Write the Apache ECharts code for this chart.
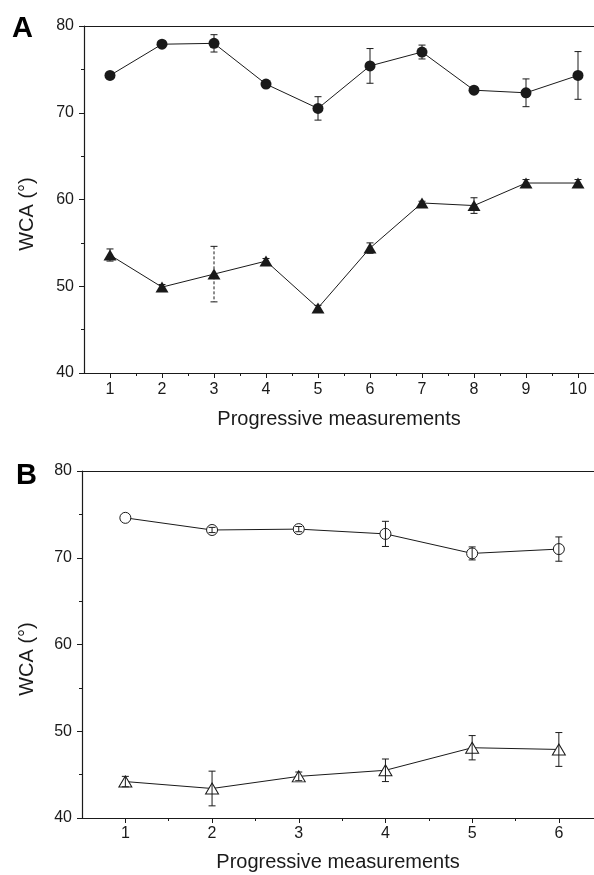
<!DOCTYPE html>
<html>
<head>
<meta charset="utf-8">
<script src="https://cdn.jsdelivr.net/npm/echarts@6/dist/echarts.min.js"></script>
<style>
html,body{margin:0;padding:0;background:#fff;}
#chart{width:594px;height:875px;}
</style>
</head>
<body>
<div id="chart"></div>
<script>
// ---------- data ----------
const xA = [1, 2, 3, 4, 5, 6, 7, 8, 9, 10];
const circA = [74.3, 77.9, 78.0, 73.3, 70.5, 75.4, 77.0, 72.6, 72.3, 74.3];
const circAErr = [0.2, 0.2, 1.0, 0.3, 1.35, 2.0, 0.8, 0.2, 1.6, 2.75];
const triA = [53.6, 49.9, 51.4, 52.9, 47.5, 54.4, 59.6, 59.3, 61.9, 61.9];
const triAErr = [0.7, 0.3, 3.2, 0.3, 0.3, 0.6, 0.2, 0.9, 0.4, 0.4];

const xB = [1, 2, 3, 4, 5, 6];
const circB = [74.6, 73.2, 73.3, 72.75, 70.5, 71.0];
const circBErr = [0, 0.3, 0.3, 1.45, 0.75, 1.4];
const triB = [44.2, 43.4, 44.8, 45.5, 48.1, 47.9];
const triBErr = [0.6, 2.0, 0.5, 1.3, 1.4, 1.95];

const xTicksA = [1, 2, 3, 4, 5, 6, 7, 8, 9, 10];
const xMinorA = [1.5, 2.5, 3.5, 4.5, 5.5, 6.5, 7.5, 8.5, 9.5];
const xTicksB = [1, 2, 3, 4, 5, 6];
const xMinorB = [1.5, 2.5, 3.5, 4.5, 5.5];

const xTitle = 'Progressive measurements';
const yTitle = 'WCA (°)';

// ---------- helpers ----------
const FONT = '"Liberation Sans", Arial, sans-serif';
const INK = '#1a1a1a';

function pts(xs, ys) { return xs.map((x, i) => [x, ys[i]]); }
function errPts(xs, ys, es) { return xs.map((x, i) => [x, ys[i], es[i]]); }

function errRender(dashedIdx) {
  return function (params, api) {
    const x = api.value(0), y = api.value(1), e = api.value(2);
    if (!e) return null;
    const t = api.coord([x, y + e]);
    const b = api.coord([x, y - e]);
    const hw = 3.5;
    const dash = (dashedIdx === params.dataIndex) ? [3, 2] : null;
    const st = { stroke: INK, lineWidth: 1, lineDash: dash };
    return {
      type: 'group',
      children: [
        { type: 'line', shape: { x1: t[0], y1: t[1], x2: b[0], y2: b[1] }, style: st },
        { type: 'line', shape: { x1: t[0] - hw, y1: t[1], x2: t[0] + hw, y2: t[1] }, style: { stroke: INK, lineWidth: 1 } },
        { type: 'line', shape: { x1: b[0] - hw, y1: b[1], x2: b[0] + hw, y2: b[1] }, style: { stroke: INK, lineWidth: 1 } }
      ]
    };
  };
}

function mainX(gridIndex, max, ticks, labelMargin, gap) {
  return {
    type: 'value', gridIndex, min: 0.5, max,
    position: 'bottom',
    axisLine: { show: true, onZero: false, lineStyle: { color: INK, width: 1.2 } },
    axisTick: { show: true, length: 5, customValues: ticks, lineStyle: { color: INK } },
    axisLabel: { show: true, customValues: ticks, color: INK, fontSize: 16, fontFamily: FONT, margin: labelMargin },
    splitLine: { show: false },
    name: xTitle, nameLocation: 'middle', nameGap: gap,
    nameTextStyle: { color: INK, fontSize: 20, fontFamily: FONT }
  };
}
function minorX(gridIndex, max, ticks) {
  return {
    type: 'value', gridIndex, min: 0.5, max, position: 'bottom',
    axisLine: { show: false },
    axisTick: { show: true, length: 3, customValues: ticks, lineStyle: { color: INK } },
    axisLabel: { show: false },
    splitLine: { show: false }
  };
}
function topX(gridIndex, max) {
  return {
    type: 'value', gridIndex, min: 0.5, max, position: 'top',
    axisLine: { show: true, lineStyle: { color: INK, width: 1.2 } },
    axisTick: { show: false }, axisLabel: { show: false }, splitLine: { show: false }
  };
}
function mainY(gridIndex) {
  return {
    type: 'value', gridIndex, min: 40, max: 80, interval: 10,
    axisLine: { show: true, lineStyle: { color: INK, width: 1.2 } },
    axisTick: { show: true, length: 5, lineStyle: { color: INK } },
    minorTick: { show: true, splitNumber: 2, length: 3, lineStyle: { color: INK } },
    axisLabel: { color: INK, fontSize: 16, fontFamily: FONT, margin: 10 },
    splitLine: { show: false }, minorSplitLine: { show: false }
  };
}

const maxA = 0.5 + 510 / 52;
const maxB = 0.5 + 512 / 86.7;

const option = {
  animation: false,
  backgroundColor: '#fff',
  grid: [
    { left: 84, top: 26, width: 510, height: 347 },
    { left: 82, top: 471, width: 512, height: 347 }
  ],
  xAxis: [
    mainX(0, maxA, xTicksA, 9, 36), minorX(0, maxA, xMinorA), topX(0, maxA),
    mainX(1, maxB, xTicksB, 8, 34), minorX(1, maxB, xMinorB), topX(1, maxB)
  ],
  yAxis: [mainY(0), mainY(1)],
  graphic: [
    { type: 'text', left: 12, top: 14, style: { text: 'A', fontSize: 29, fontWeight: 'bold', fontFamily: FONT, fill: '#000' } },
    { type: 'text', left: 16, top: 461, style: { text: 'B', fontSize: 29, fontWeight: 'bold', fontFamily: FONT, fill: '#000' } },
    { type: 'text', x: 27.5, y: 214, rotation: Math.PI / 2,
      style: { text: yTitle, fontSize: 20, fontFamily: FONT, fill: INK, align: 'center', verticalAlign: 'middle' } },
    { type: 'text', x: 27.5, y: 659, rotation: Math.PI / 2,
      style: { text: yTitle, fontSize: 20, fontFamily: FONT, fill: INK, align: 'center', verticalAlign: 'middle' } }
  ],
  series: [
    { type: 'line', xAxisIndex: 0, yAxisIndex: 0, data: pts(xA, circA), symbol: 'circle', symbolSize: 11,
      itemStyle: { color: INK }, lineStyle: { color: INK, width: 1 }, z: 3 },
    { type: 'line', xAxisIndex: 0, yAxisIndex: 0, data: pts(xA, triA), symbol: 'triangle', symbolSize: [13, 11],
      itemStyle: { color: INK }, lineStyle: { color: INK, width: 1 }, z: 3 },
    { type: 'custom', xAxisIndex: 0, yAxisIndex: 0, data: errPts(xA, circA, circAErr), renderItem: errRender(-1), z: 4 },
    { type: 'custom', xAxisIndex: 0, yAxisIndex: 0, data: errPts(xA, triA, triAErr), renderItem: errRender(2), z: 4 },

    { type: 'line', xAxisIndex: 3, yAxisIndex: 1, data: pts(xB, circB), symbol: 'circle', symbolSize: 11,
      itemStyle: { color: '#fff', borderColor: INK, borderWidth: 1 }, lineStyle: { color: INK, width: 1 }, z: 3 },
    { type: 'line', xAxisIndex: 3, yAxisIndex: 1, data: pts(xB, triB), symbol: 'triangle', symbolSize: [13, 11],
      itemStyle: { color: '#fff', borderColor: INK, borderWidth: 1 }, lineStyle: { color: INK, width: 1 }, z: 3 },
    { type: 'custom', xAxisIndex: 3, yAxisIndex: 1, data: errPts(xB, circB, circBErr), renderItem: errRender(-1), z: 4 },
    { type: 'custom', xAxisIndex: 3, yAxisIndex: 1, data: errPts(xB, triB, triBErr), renderItem: errRender(-1), z: 4 }
  ]
};

const chart = echarts.init(document.getElementById('chart'), null, { renderer: 'canvas' });
chart.setOption(option);
</script>
</body>
</html>
